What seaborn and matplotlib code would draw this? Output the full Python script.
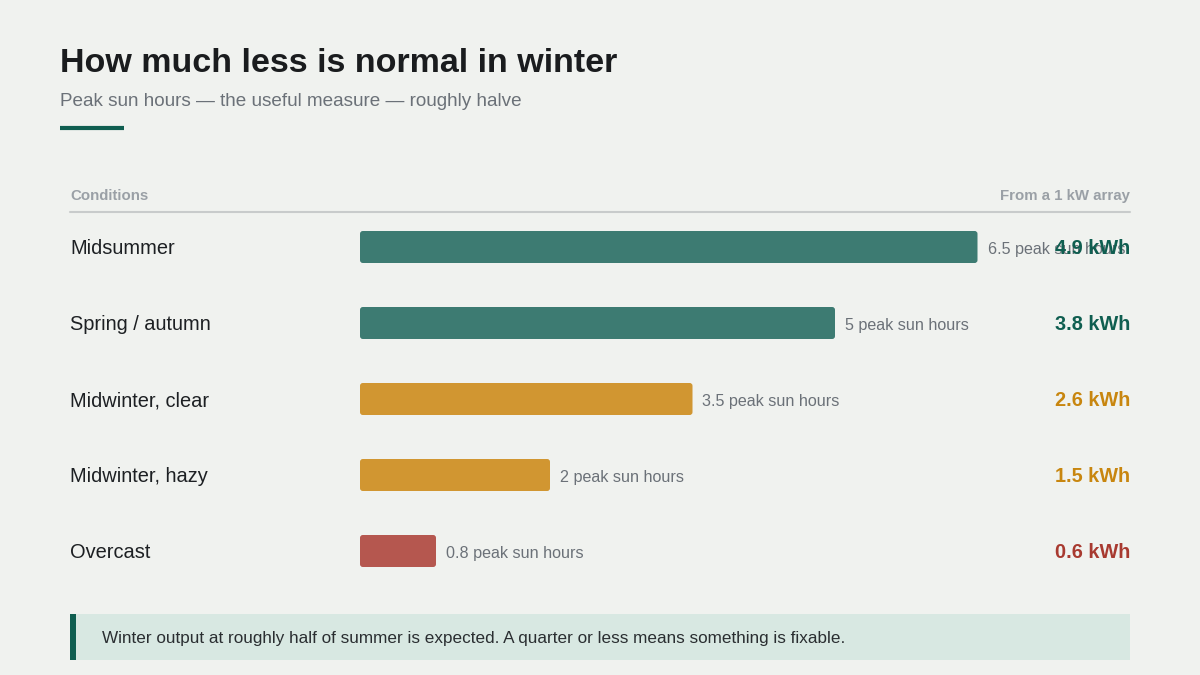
import matplotlib
matplotlib.use("Agg")
import matplotlib.pyplot as plt
import matplotlib.transforms as mtransforms
from matplotlib.patches import FancyBboxPatch, Rectangle
from matplotlib.lines import Line2D
import pandas as pd
import seaborn as sns

# data
conditions = ["Midsummer", "Spring / autumn", "Midwinter, clear", "Midwinter, hazy", "Overcast"]
sun_hours = [6.5, 5, 3.5, 2, 0.8]
kwh = [4.9, 3.8, 2.6, 1.5, 0.6]
groups = ["good", "good", "ok", "ok", "poor"]

bar_colors = {"good": "#3d7b72", "ok": "#d19631", "poor": "#b5574f"}
value_colors = {"good": "#0f5e50", "ok": "#c8860f", "poor": "#a83a30"}
bg = "#f0f2ef"

df = pd.DataFrame({"condition": conditions, "hours": sun_hours, "kwh": kwh, "group": groups})

sns.set_theme(style="white")
plt.rcParams["font.family"] = ["Liberation Sans", "DejaVu Sans"]

W, H = 1200, 675
fig = plt.figure(figsize=(12, 6.75), dpi=100, facecolor=bg)

def fx(px):
    return px / W

def fy(py):
    return 1 - py / H

# bar area: x 360..1130 px, rows centred at 247..551 px (76 px apart)
ax = fig.add_axes([fx(360), fy(589), fx(1130) - fx(360), (589 - 209) / H])
ax.set_facecolor("none")
sns.barplot(data=df, y="condition", x="hours", hue="group", palette=bar_colors,
            orient="h", width=32 / 76, dodge=False, legend=False, saturation=1, ax=ax)
ax.set_xlim(0, 770 / 95)
ax.set_ylim(4.5, -0.5)
ax.axis("off")

# rounded bars
for p in list(ax.patches):
    x0, y0, w, h = p.get_x(), p.get_y(), p.get_width(), p.get_height()
    if w <= 0:
        continue
    fc = p.get_facecolor()
    p.remove()
    ax.add_patch(FancyBboxPatch((x0, y0), w, h,
                                boxstyle="round,pad=0,rounding_size=0.03",
                                mutation_aspect=95 / 76, fc=fc, ec="none"))

left_tr = mtransforms.blended_transform_factory(fig.transFigure, ax.transData)
right_tr = mtransforms.blended_transform_factory(ax.transAxes, ax.transData)

for i, row in df.iterrows():
    ax.text(fx(70), i + 0.02, row["condition"], transform=left_tr, ha="left", va="center",
            fontsize=14.4, color="#1d2023")
    hrs = f"{row['hours']:g}"
    ax.text(row["hours"] + 10 / 95, i + 0.03, f"{hrs} peak sun hours", ha="left", va="center",
            fontsize=11.6, color="#6b7178")
    ax.text(1.0, i + 0.02, f"{row['kwh']:.1f} kWh", transform=right_tr, ha="right", va="center",
            fontsize=14.3, fontweight="bold", color=value_colors[row["group"]])

# title block
fig.text(fx(60), fy(63), "How much less is normal in winter", ha="left", va="center",
         fontsize=24.5, fontweight="bold", color="#1a1c1e")
fig.text(fx(60), fy(102), "Peak sun hours \u2014 the useful measure \u2014 roughly halve",
         ha="left", va="center", fontsize=13.6, color="#6b7178")
fig.add_artist(Line2D([fx(60), fx(124)], [fy(128), fy(128)], color="#0f5e50", lw=3,
                      solid_capstyle="butt"))

# header row
fig.text(fx(70), fy(196), "Conditions", ha="left", va="center", fontsize=10.8,
         fontweight="bold", color="#9aa0a6")
fig.text(fx(1130), fy(196), "From a 1 kW array", ha="right", va="center", fontsize=10.8,
         fontweight="bold", color="#9aa0a6")
fig.add_artist(Line2D([fx(70), fx(1130)], [fy(212), fy(212)], color="#c8cbcb", lw=1.5))

# callout
fig.add_artist(Rectangle((fx(70), fy(660)), fx(1130) - fx(70), (660 - 614) / H,
                         transform=fig.transFigure, fc="#d8e8e2", ec="none"))
fig.add_artist(Rectangle((fx(70), fy(660)), fx(6), (660 - 614) / H,
                         transform=fig.transFigure, fc="#0f5e50", ec="none"))
fig.text(fx(102), fy(638),
         "Winter output at roughly half of summer is expected. A quarter or less means something is fixable.",
         ha="left", va="center", fontsize=12.3, color="#2a2e31")

fig.savefig("out.png", dpi=100, facecolor=bg)
